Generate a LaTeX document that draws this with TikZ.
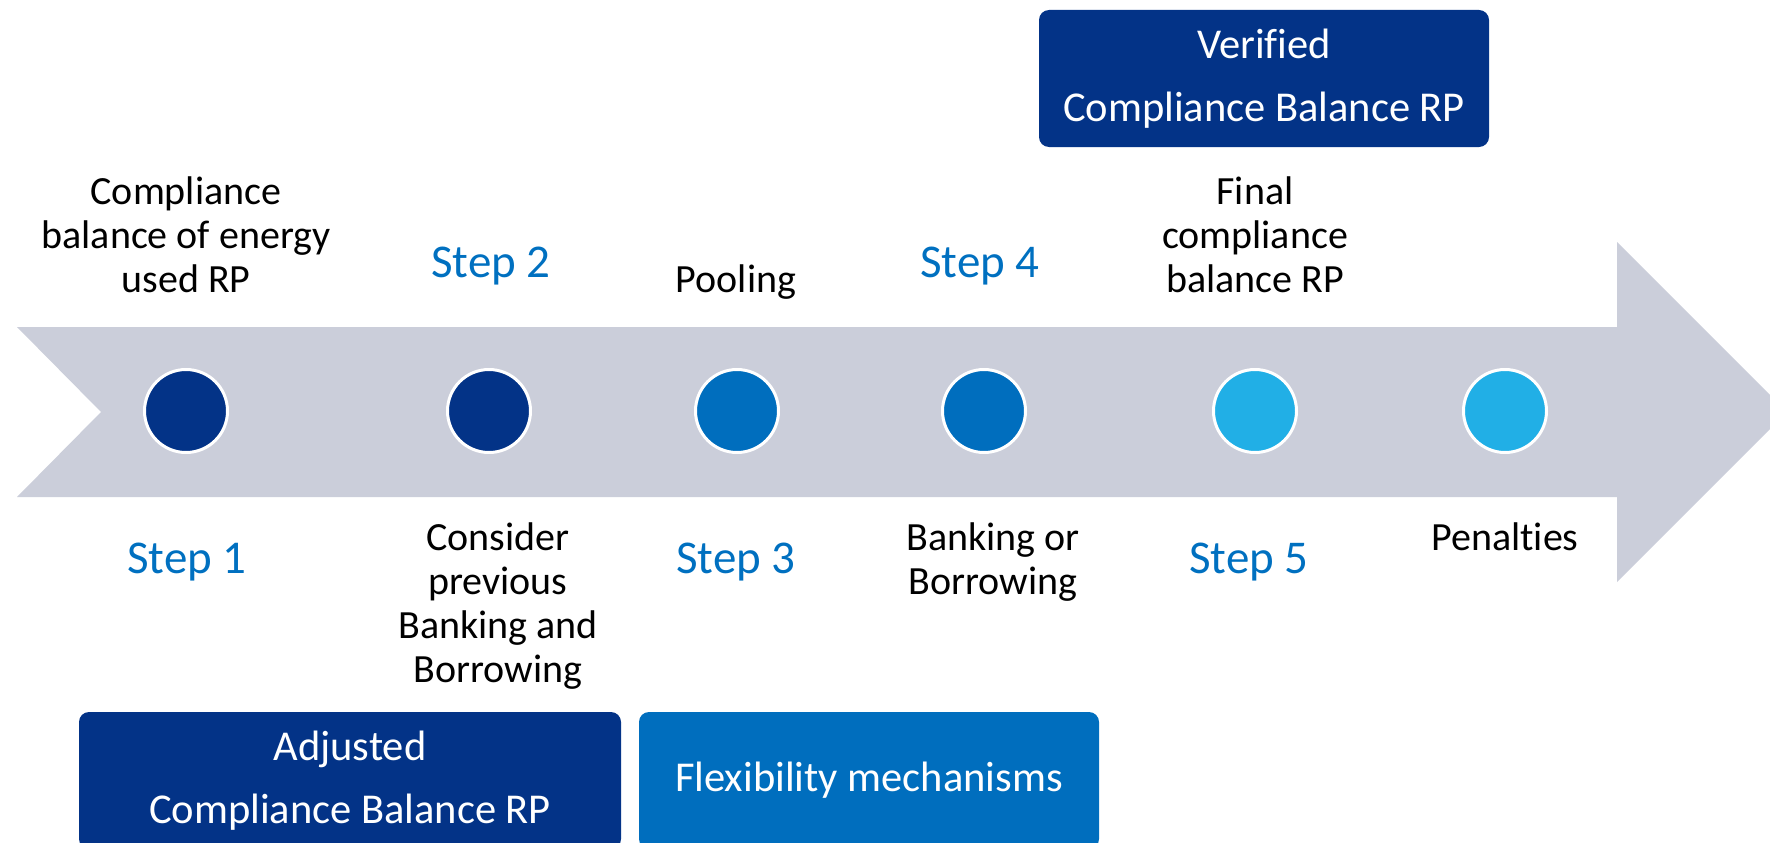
\documentclass[tikz,border=0pt]{standalone}
\usepackage{fontspec}
\setmainfont[Ligatures=NoCommon]{Carlito}
\definecolor{navy}{RGB}{3,51,135}
\definecolor{midblue}{RGB}{0,110,190}
\definecolor{skyblue}{RGB}{33,175,230}
\definecolor{bandgray}{RGB}{203,206,218}
\definecolor{steptext}{RGB}{0,112,192}
\tikzset{
  dot/.style={circle, minimum size=83pt, inner sep=0pt, draw=white, line width=3pt},
  blk/.style={inner sep=0pt, anchor=base, text=black, font=\fontsize{40}{44}\selectfont},
  steplbl/.style={inner sep=0pt, anchor=base, text=steptext, font=\fontsize{47}{50}\selectfont},
  phasebox/.style={rounded corners=10pt, inner sep=0pt, text=white, align=center,
    minimum height=137pt, font=\fontsize{42.5}{63}\selectfont}
}
\begin{document}
\begin{tikzpicture}[x=1pt, y=-1pt]
\useasboundingbox (0,0) rectangle (1770,843);
\clip (0,0) rectangle (1770,843);

% timeline band with arrow head
\fill[bandgray] (17,327) -- (1617,327) -- (1617,242) -- (1787,412)
  -- (1617,582) -- (1617,497) -- (17,497) -- (101,412) -- cycle;

% milestones
\node[dot, fill=navy]    (c1) at (186,411) {};
\node[dot, fill=navy]    (c2) at (489,411) {};
\node[dot, fill=midblue] (c3) at (737,411) {};
\node[dot, fill=midblue] (c4) at (984,411) {};
\node[dot, fill=skyblue] (c5) at (1255,411) {};
\node[dot, fill=skyblue] (c6) at (1505,411) {};

% labels above the band
\node[blk] (t1) at (186,292) {\begin{tabular}[b]{@{}c@{}}Compliance\\balance of energy\\used RP\end{tabular}};
\node[steplbl] (s2) at (491,277) {Step 2};
\node[blk] (t3) at (736,292) {Pooling};
\node[steplbl] (s4) at (980,277) {Step 4};
\node[blk] (t5) at (1255,292) {\begin{tabular}[b]{@{}c@{}}Final\\compliance\\balance RP\end{tabular}};

% labels below the band
\node[steplbl] (s1) at (187,573) {Step 1};
\node[blk] (t2) at (498,550) {\begin{tabular}[t]{@{}c@{}}Consider\\previous\\Banking and\\Borrowing\end{tabular}};
\node[steplbl] (s3) at (736,573) {Step 3};
\node[blk] (t4) at (993,550) {\begin{tabular}[t]{@{}c@{}}Banking or\\Borrowing\end{tabular}};
\node[steplbl] (s5) at (1249,573) {Step 5};
\node[blk] (t6) at (1505,550) {Penalties};

% phase boxes
\node[phasebox, fill=navy, minimum width=450pt] (verified) at (1264,78.5)
  {Verified\\Compliance Balance RP};
\node[phasebox, fill=navy, minimum width=542pt] (adjusted) at (350,780.5)
  {Adjusted\\Compliance Balance RP};
\node[phasebox, fill=midblue, minimum width=460pt] (flex) at (869,780.5)
  {Flexibility mechanisms};
\end{tikzpicture}
\end{document}
